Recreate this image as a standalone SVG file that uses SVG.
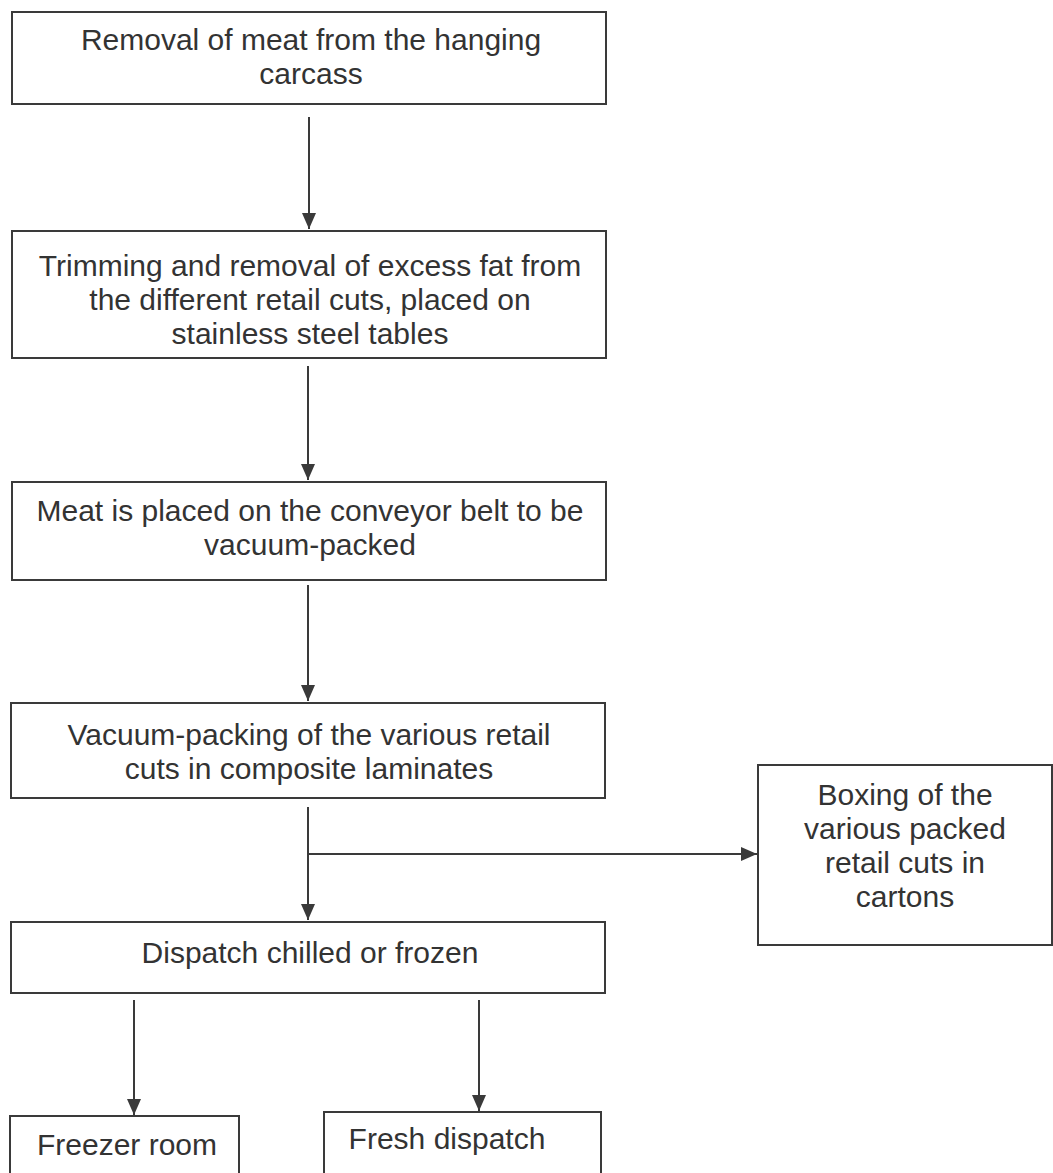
<svg xmlns="http://www.w3.org/2000/svg" width="1053" height="1173" viewBox="0 0 1053 1173">
<defs>
<style>
.box{fill:#fff;stroke:#3a3a3a;stroke-width:2}
.t{font-family:"Liberation Sans",Arial,sans-serif;font-size:30px;fill:#333;text-anchor:middle}
.c{stroke:#3a3a3a;stroke-width:2;fill:none;marker-end:url(#ah)}
</style>
<marker id="ah" markerUnits="userSpaceOnUse" markerWidth="16" markerHeight="14" refX="16" refY="7" orient="auto">
<path d="M0,0 L16,7 L0,14 z" fill="#3a3a3a"/>
</marker>
</defs>
<rect width="1053" height="1173" fill="#fff"/>
<g id="connectors">
<line class="c" x1="309" y1="117" x2="309" y2="229"/>
<line class="c" x1="308" y1="366" x2="308" y2="480"/>
<line class="c" x1="308" y1="585" x2="308" y2="701"/>
<line class="c" x1="308" y1="807" x2="308" y2="920"/>
<line class="c" x1="308" y1="854" x2="757" y2="854"/>
<line class="c" x1="134" y1="1000" x2="134" y2="1115"/>
<line class="c" x1="479" y1="1000" x2="479" y2="1111"/>
</g>
<g id="n1">
<rect class="box" x="12" y="12" width="594" height="92"/>
<text class="t" x="311" y="50">Removal of meat from the hanging</text>
<text class="t" x="311" y="84">carcass</text>
</g>
<g id="n2">
<rect class="box" x="12" y="231" width="594" height="127"/>
<text class="t" x="310" y="276">Trimming and removal of excess fat from</text>
<text class="t" x="310" y="310">the different retail cuts, placed on</text>
<text class="t" x="310" y="344">stainless steel tables</text>
</g>
<g id="n3">
<rect class="box" x="12" y="482" width="594" height="98"/>
<text class="t" x="310" y="521">Meat is placed on the conveyor belt to be</text>
<text class="t" x="310" y="555">vacuum-packed</text>
</g>
<g id="n4">
<rect class="box" x="11" y="703" width="594" height="95"/>
<text class="t" x="309" y="745">Vacuum-packing of the various retail</text>
<text class="t" x="309" y="779">cuts in composite laminates</text>
</g>
<g id="n5">
<rect class="box" x="758" y="765" width="294" height="180"/>
<text class="t" x="905" y="805">Boxing of the</text>
<text class="t" x="905" y="839">various packed</text>
<text class="t" x="905" y="873">retail cuts in</text>
<text class="t" x="905" y="907">cartons</text>
</g>
<g id="n6">
<rect class="box" x="11" y="922" width="594" height="71"/>
<text class="t" x="310" y="963">Dispatch chilled or frozen</text>
</g>
<g id="n7">
<rect class="box" x="10" y="1116" width="229" height="70"/>
<text class="t" x="127" y="1155">Freezer room</text>
</g>
<g id="n8">
<rect class="box" x="324" y="1112" width="277" height="74"/>
<text class="t" x="447" y="1149">Fresh dispatch</text>
</g>
</svg>
